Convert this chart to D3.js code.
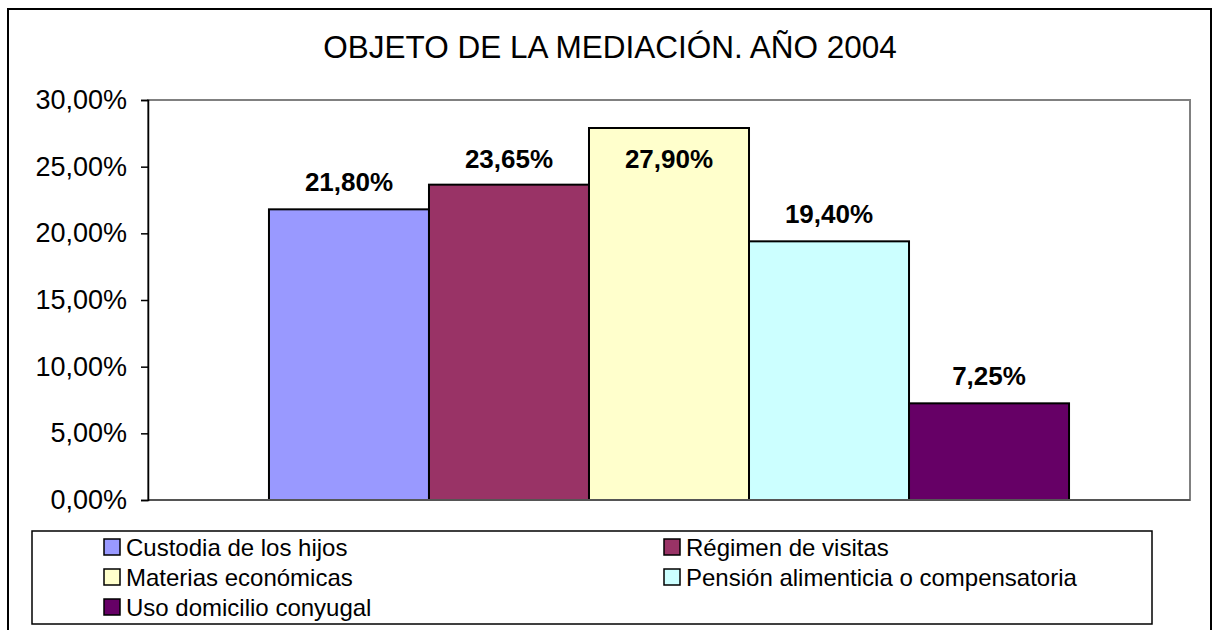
<!DOCTYPE html>
<html>
<head>
<meta charset="utf-8">
<script src="https://cdn.jsdelivr.net/npm/d3@7"></script>
<style>
  html, body { margin: 0; padding: 0; background: #fff; }
  svg { display: block; font-family: "Liberation Sans", Arial, sans-serif; }
</style>
</head>
<body>
<svg id="chart" width="1215" height="630"></svg>
<script>
const title = "OBJETO DE LA MEDIACIÓN. AÑO 2004";
const series = ["Custodia de los hijos", "Régimen de visitas", "Materias económicas", "Pensión alimenticia o compensatoria", "Uso domicilio conyugal"];
const values = [21.80, 23.65, 27.90, 19.40, 7.25];
const colors = ["#9999FF", "#993366", "#FFFFCC", "#CCFFFF", "#660066"];
const yTicks = [0, 5, 10, 15, 20, 25, 30];

const svg = d3.select("#chart");
const fmt = v => d3.format(".2f")(v).replace(".", ",") + "%";

// outer chart border
svg.append("rect").attr("x", 8).attr("y", 9).attr("width", 1203).attr("height", 640)
  .attr("fill", "#fff").attr("stroke", "#000").attr("stroke-width", 2);

// title
svg.append("text").attr("x", 610).attr("y", 58).attr("text-anchor", "middle")
  .attr("font-size", 31.5).attr("fill", "#000").text(title);

const plot = { l: 148, t: 100, r: 1190, b: 500 };
const y = d3.scaleLinear().domain([0, 30]).range([plot.b, plot.t]);
const x = d3.scaleBand().domain(series).range([plot.l, plot.r]).paddingInner(0).paddingOuter(0.756);

// plot area border (gray)
svg.append("rect").attr("x", plot.l).attr("y", plot.t).attr("width", plot.r - plot.l).attr("height", plot.b - plot.t)
  .attr("fill", "#fff").attr("stroke", "#808080").attr("stroke-width", 2);

// bars
svg.append("g").selectAll("rect").data(values).join("rect")
  .attr("x", (d, i) => x(series[i]))
  .attr("y", d => y(d))
  .attr("width", x.bandwidth())
  .attr("height", d => y(0) - y(d))
  .attr("fill", (d, i) => colors[i])
  .attr("stroke", "#000").attr("stroke-width", 2);

// bottom axis line
svg.append("line").attr("x1", plot.l).attr("x2", plot.r).attr("y1", y(0)).attr("y2", y(0))
  .attr("stroke", "#555").attr("stroke-width", 2);

// y axis
const yAxis = d3.axisLeft(y).tickValues(yTicks).tickSize(7).tickPadding(14).tickFormat(fmt);
const gy = svg.append("g").attr("transform", `translate(${plot.l},0)`).call(yAxis);
gy.select(".domain").attr("stroke", "#000").attr("stroke-width", 1.5);
gy.selectAll(".tick line").attr("stroke", "#000").attr("stroke-width", 1.5);
gy.selectAll(".tick text").attr("font-size", 27).attr("fill", "#000")
  .attr("font-family", "'Liberation Sans', Arial, sans-serif");

// data labels
svg.append("g").selectAll("text").data(values).join("text")
  .attr("x", (d, i) => x(series[i]) + x.bandwidth() / 2)
  .attr("y", d => Math.max(y(d) - 18, y(30) + 68))
  .attr("text-anchor", "middle").attr("font-size", 26).attr("font-weight", "bold").attr("fill", "#000")
  .text(d => fmt(d));

// legend
const leg = { x: 32, y: 531, w: 1120, h: 93 };
svg.append("rect").attr("x", leg.x).attr("y", leg.y).attr("width", leg.w).attr("height", leg.h)
  .attr("fill", "#fff").attr("stroke", "#000").attr("stroke-width", 1.5);
const colX = [104, 664];
const rowY = [547, 577, 607];
const items = svg.append("g").selectAll("g").data(series).join("g")
  .attr("transform", (d, i) => `translate(${colX[i % 2]},${rowY[Math.floor(i / 2)]})`);
items.append("rect").attr("x", 0).attr("y", -8).attr("width", 16).attr("height", 16)
  .attr("fill", (d, i) => colors[i]).attr("stroke", "#000").attr("stroke-width", 1.5);
items.append("text").attr("x", 22).attr("y", 8.5).attr("font-size", 24).attr("fill", "#000").text(d => d);
</script>
</body>
</html>
